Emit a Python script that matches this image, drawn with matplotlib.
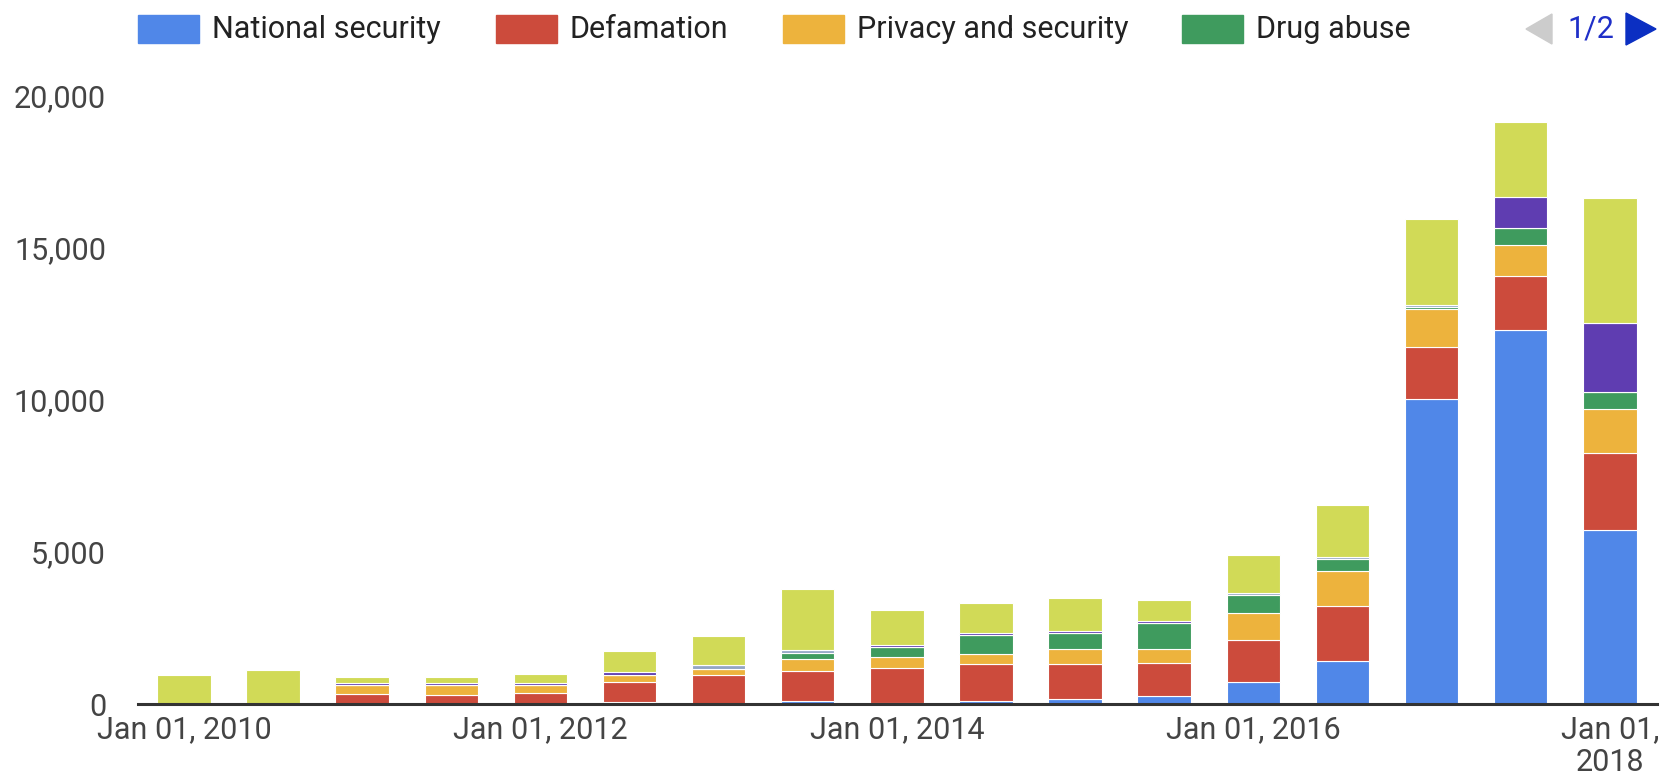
import numpy as np
import matplotlib
matplotlib.use('Agg')
import matplotlib.pyplot as plt
from matplotlib.patches import Rectangle, Polygon

plt.rcParams['font.family'] = ['Roboto', 'DejaVu Sans']

# Half-year periods, Jan 2010 .. Jan 2018
periods = ['2010-01', '2010-07', '2011-01', '2011-07', '2012-01', '2012-07',
           '2013-01', '2013-07', '2014-01', '2014-07', '2015-01', '2015-07',
           '2016-01', '2016-07', '2017-01', '2017-07', '2018-01']

national_security = [0, 0, 0, 0, 0, 60, 0, 88, 30, 88, 175, 252,
                     718, 1419, 10030, 12300, 5730]
defamation = [0, 0, 345, 285, 351, 668, 937, 1003, 1143, 1238, 1151, 1080,
              1397, 1792, 1715, 1786, 2505]
privacy_security = [0, 0, 269, 329, 263, 241, 225, 395, 384, 307, 471, 471,
                    866, 1173, 1248, 1014, 1476]
drug_abuse = [0, 0, 0, 0, 0, 0, 0, 181, 318, 630, 543, 866,
              614, 389, 60, 548, 546]
# series shown on legend page 2
page2_grey = [0, 0, 0, 0, 0, 0, 115, 104, 0, 0, 0, 0, 60, 60, 50, 0, 0]
page2_purple = [0, 0, 70, 70, 70, 70, 0, 0, 70, 70, 70, 70,
                0, 0, 0, 1023, 2274]
page2_other = [964, 1107, 210, 210, 300, 710, 948, 2022, 1160, 1000, 1090, 690,
               1245, 1710, 2840, 2465, 4110]

series = [
    ('National security', national_security, '#5087E8'),
    ('Defamation', defamation, '#CC4B3C'),
    ('Privacy and security', privacy_security, '#EDB33D'),
    ('Drug abuse', drug_abuse, '#3F9B5E'),
    ('Page 2 series A', page2_grey, '#93A6C4'),
    ('Page 2 series B', page2_purple, '#5F3DB1'),
    ('Page 2 series C', page2_other, '#D1DA57'),
]
legend_items = series[:4]

W, H = 1665, 781
fig = plt.figure(figsize=(W / 100, H / 100), dpi=100)
ax = fig.add_axes([138 / W, 77 / H, (1657 - 138) / W, (704 - 95.6) / H])

x = np.arange(len(periods))
bottom = np.zeros(len(periods))
for name, vals, color in series:
    vals = np.array(vals, dtype=float)
    ax.bar(x, vals, width=0.6, bottom=bottom, color=color,
           edgecolor='white', linewidth=0.8, label=name, zorder=2)
    bottom += vals

ax.set_xlim(-0.516, 16.53)
ax.set_ylim(0, 20000)

yt = [0, 5000, 10000, 15000, 20000]
ax.set_yticks(yt)
ax.set_yticklabels([f'{v:,}' for v in yt])

tick_idx = [0, 4, 8, 12, 16]
labels = []
for i in tick_idx:
    y, m = periods[i].split('-')
    lab = f'Jan 01, {y}' if i != tick_idx[-1] else f'Jan 01,\n{y}'
    labels.append(lab)
ax.set_xticks(tick_idx)
ax.set_xticklabels(labels, linespacing=1.15)

ax.tick_params(axis='y', length=0, pad=23, labelsize=22, labelcolor='#444444')
ax.tick_params(axis='x', length=0, pad=8, labelsize=22, labelcolor='#444444')
for s in ['top', 'right', 'left']:
    ax.spines[s].set_visible(False)
ax.spines['bottom'].set_color('#333333')
ax.spines['bottom'].set_linewidth(2.2)
ax.spines['bottom'].set_zorder(3)

# legend drawn in pixel space (page 1 of 2)
lg = fig.add_axes([0, 0, 1, 1], zorder=5)
lg.set_xlim(0, W)
lg.set_ylim(H, 0)
lg.axis('off')
sw_x = [138, 496, 783, 1182]
for sx, (name, vals, color) in zip(sw_x, legend_items):
    lg.add_patch(Rectangle((sx, 15), 61, 28, color=color))
    lg.text(sx + 74, 29, name, fontsize=22, color='#222222',
            va='center', ha='left')
lg.add_patch(Polygon([[1552, 14], [1552, 44], [1526, 29]], color='#CCCCCC'))
lg.text(1591, 29, '1/2', fontsize=22, color='#1F2FC8', va='center', ha='center')
lg.add_patch(Polygon([[1626, 13], [1626, 45], [1656, 29]], color='#0B2FC2'))

fig.savefig('out.png', dpi=100)
